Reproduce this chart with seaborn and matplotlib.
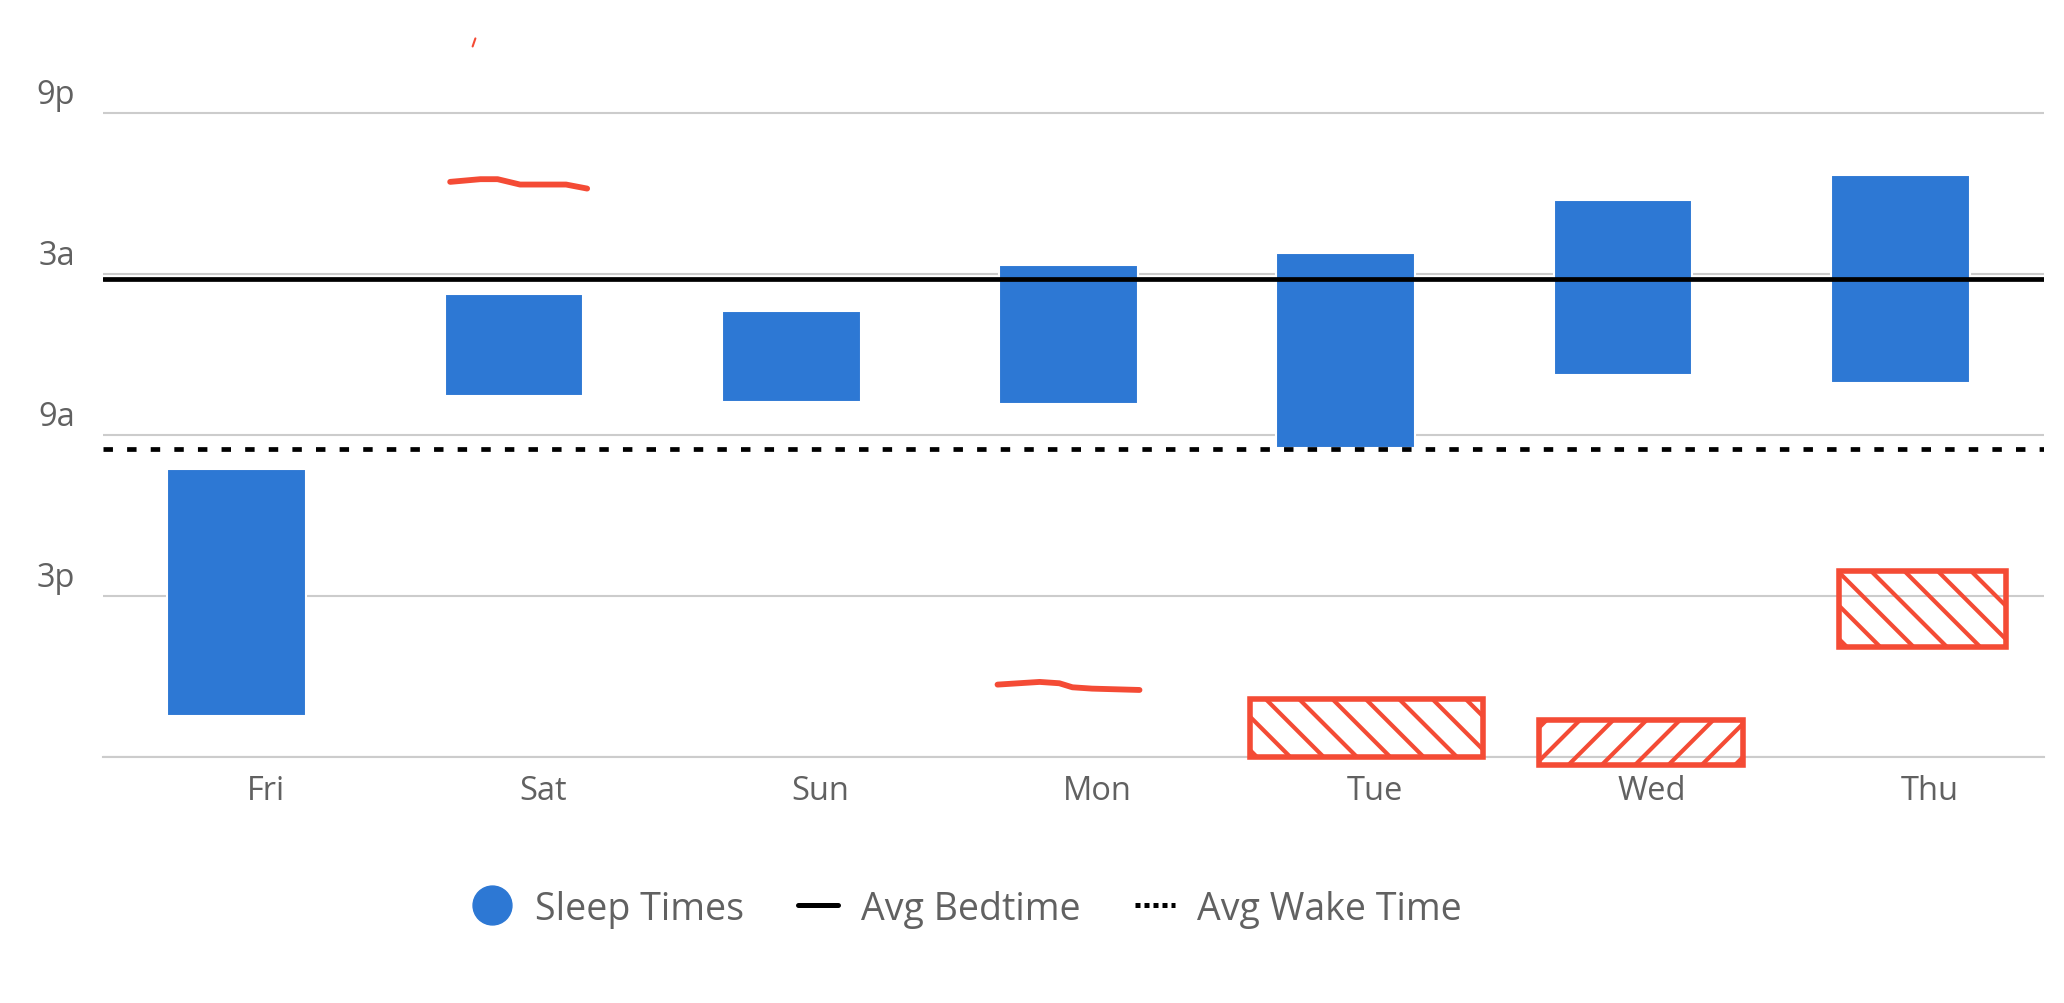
import matplotlib
matplotlib.use('Agg')
import matplotlib.pyplot as plt
import matplotlib.transforms as mtransforms
from matplotlib.lines import Line2D
from matplotlib.patches import Rectangle
import pandas as pd
import seaborn as sns

# times are hours after 9p, time runs downwards on the chart
days = ['Fri', 'Sat', 'Sun', 'Mon', 'Tue', 'Wed', 'Thu']
sleep_start = [13.25, 6.72, 7.36, 5.64, 5.20, 3.24, 2.31]
sleep_end = [22.48, 10.55, 10.75, 10.85, 12.47, 9.77, 10.06]
avg_bedtime = 6.18
avg_wake = 12.52
hour_ticks = [0, 6, 12, 18, 24]
hour_labels = ['9p', '3a', '9a', '3p', '']

# red pen marks scribbled over the chart (day index, hours)
pen_sat_x = [0.752, 0.861, 0.923, 1.004, 1.170, 1.246]
pen_sat_y = [2.55, 2.45, 2.45, 2.65, 2.65, 2.80]
pen_mon_x = [2.726, 2.878, 2.949, 2.996, 3.067, 3.238]
pen_mon_y = [21.30, 21.20, 21.25, 21.40, 21.45, 21.50]
pen_tick_x = [0.833, 0.843]
pen_tick_y = [-2.50, -2.80]
pen_box_x0 = [3.637, 4.680, 5.762]
pen_box_x1 = [4.476, 5.416, 6.364]
pen_box_y0 = [21.84, 22.63, 17.08]
pen_box_y1 = [24.00, 24.29, 19.88]
pen_box_hatch = ['\\', '/', '\\']

BLUE = '#2d78d4'
RED = '#f44b35'
GREY_TXT = '#616161'
GRID = '#cccccc'

sns.set_style('white')
plt.rcParams['font.family'] = ['Open Sans', 'DejaVu Sans']
plt.rcParams['hatch.linewidth'] = 3.0
plt.rcParams['hatch.color'] = RED

df = pd.DataFrame({
    'day': days,
    'start': sleep_start,
    'length': [e - s for s, e in zip(sleep_start, sleep_end)],
})

fig = plt.figure(figsize=(20.64, 10.04), dpi=100)
ax = fig.add_axes([103 / 2064, 1 - 758 / 1004, (2044 - 103) / 2064, 758 / 1004])

sns.barplot(data=df, x='day', y='length', bottom=df['start'], width=0.5,
            color=BLUE, saturation=1, errorbar=None, edgecolor='white',
            linewidth=1.5, zorder=2, ax=ax)
# bars sit a touch left of the category centre in the original
for p in ax.patches:
    p.set_x(p.get_x() - 0.018)

ax.axhline(avg_bedtime, color='black', lw=3.4, zorder=4)
ax.axhline(avg_wake, color='black', lw=3.4, dashes=(2, 3), zorder=4)

# axes styling
ax.set_xlim(-0.5, 6.5)
ax.set_ylim(24, -4.27)
ax.set_xlabel('')
ax.set_ylabel('')
for s in ['top', 'right', 'left']:
    ax.spines[s].set_visible(False)
ax.spines['bottom'].set_color(GRID)
ax.spines['bottom'].set_linewidth(1.5)

ax.set_yticks(hour_ticks)
ax.set_yticklabels(hour_labels)
ax.grid(axis='y', color=GRID, lw=1.5, zorder=0)
ax.set_axisbelow(True)
ax.tick_params(axis='y', length=0, pad=20, labelsize=23.5, labelcolor=GREY_TXT)
up = mtransforms.ScaledTranslation(0, 0.23, fig.dpi_scale_trans)
for lbl in ax.get_yticklabels():
    lbl.set_transform(lbl.get_transform() + up)

ax.set_xticks(range(len(days)))
ax.set_xticklabels(days)
ax.set_xticks([i - 0.5 for i in range(len(days) + 1)], minor=True)
ax.tick_params(axis='x', which='major', length=0, pad=12, labelsize=23.5,
               labelcolor=GREY_TXT)
ax.tick_params(axis='x', which='minor', length=29, width=1.5, color=GRID,
               direction='out')
right = mtransforms.ScaledTranslation(0.24, 0, fig.dpi_scale_trans)
for lbl in ax.get_xticklabels():
    lbl.set_transform(lbl.get_transform() + right)

# red pen marks
ax.plot(pen_sat_x, pen_sat_y, color=RED, lw=4.2, solid_capstyle='round',
        solid_joinstyle='round', clip_on=False, zorder=5)
ax.plot(pen_mon_x, pen_mon_y, color=RED, lw=4.2, solid_capstyle='round',
        solid_joinstyle='round', clip_on=False, zorder=5)
ax.plot(pen_tick_x, pen_tick_y, color=RED, lw=1.5, clip_on=False, zorder=5)
for x0, x1, y0, y1, h in zip(pen_box_x0, pen_box_x1, pen_box_y0, pen_box_y1,
                             pen_box_hatch):
    ax.add_patch(Rectangle((x0, y0), x1 - x0, y1 - y0, fill=False,
                           edgecolor=RED, lw=4.0, hatch=h, clip_on=False,
                           zorder=5))

# legend
handles = [
    Line2D([], [], marker='o', ls='', color=BLUE, markersize=28),
    Line2D([], [], color='black', lw=3.6),
    Line2D([], [], color='black', lw=3.6, dashes=(1, 0.8)),
]
fig.legend(handles, ['Sleep Times', 'Avg Bedtime', 'Avg Wake Time'],
           loc='center', bbox_to_anchor=(0.4686, 0.094), ncol=3,
           frameon=False, fontsize=27, labelcolor=GREY_TXT,
           handlelength=1.07, handletextpad=0.6, columnspacing=1.45)

fig.savefig('out.png', dpi=100)
